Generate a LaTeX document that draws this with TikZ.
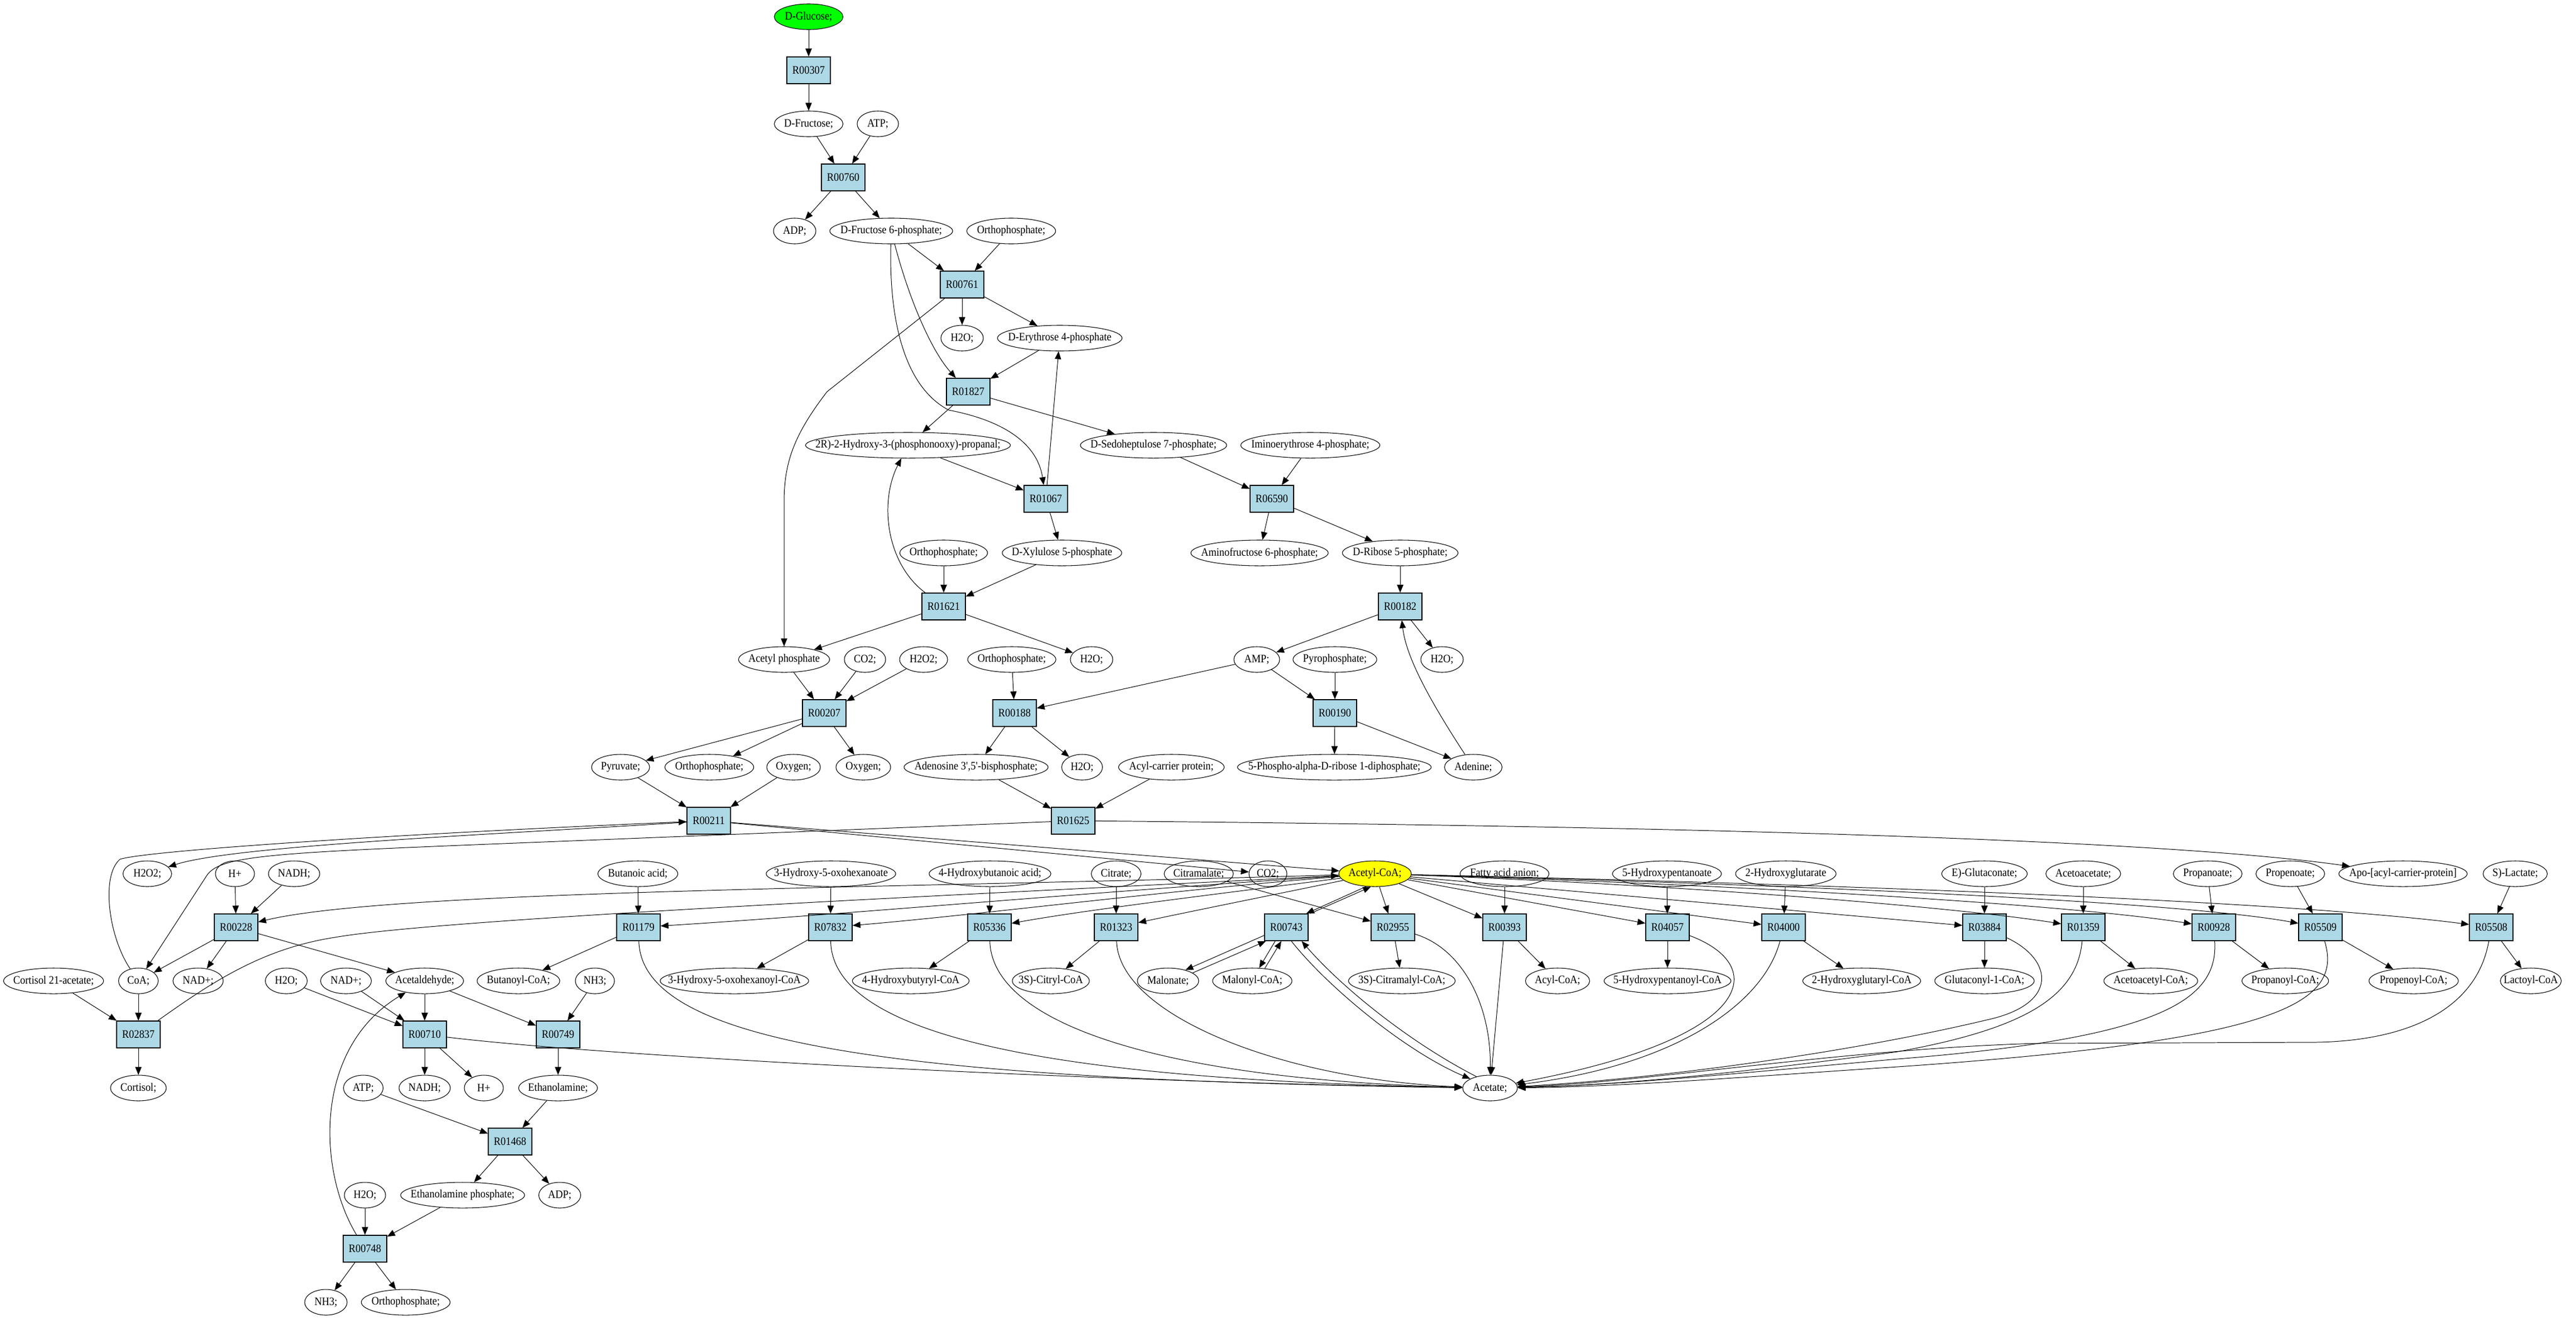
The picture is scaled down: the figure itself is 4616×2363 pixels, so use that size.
\documentclass[tikz,border=0pt]{standalone}
\usepackage{fontspec}
\setmainfont{Liberation Serif}[FakeStretch=0.9]
\usetikzlibrary{arrows.meta,shapes.geometric}
\definecolor{lb}{HTML}{ADD8E6}
\definecolor{gg}{HTML}{00FF00}
\definecolor{yy}{HTML}{FFFF00}
\newcommand\myfnt{\fontsize{5.8pt}{6.5pt}\selectfont}
\newcommand\mycp[5][]{\node[cp=#4,#1,label={center:{#5}}] (#2) at (#3) {};}
\newcommand\myrx[2]{\node[rx] (#1) at (#2) {#1};}
\tikzset{
 cp/.style={draw,ellipse,inner sep=0pt,minimum height=0.46cm,minimum width=#1,line width=0.3pt},
 rx/.style={draw,rectangle,fill=lb,inner sep=0pt,minimum width=0.78cm,minimum height=0.48cm,line width=0.4pt},
 arr/.style={-{Triangle[length=4pt,width=3.2pt]},line width=0.28pt}
}
\begin{document}
\begin{tikzpicture}[x=0.01cm,y=-0.01cm,font=\myfnt]
\path[fill=white,use as bounding box] (0,0) rectangle (4616,2363);
% ---------- nodes ----------
\mycp[fill=gg]{g}{1449,30}{1.23cm}{D-Glucose;}
\myrx{R00307}{1449,126}
\mycp{fru}{1449,222}{1.23cm}{D-Fructose;}
\mycp{atpA}{1573,222}{0.74cm}{ATP;}
\myrx{R00760}{1511,318}
\mycp{adpA}{1424,414}{0.76cm}{ADP;}
\mycp{f6p}{1597,414}{2.20cm}{D-Fructose 6-phosphate;}
\mycp{piA}{1812,414}{1.59cm}{Orthophosphate;}
\myrx{R00761}{1724,510}
\mycp{hoA}{1724,606}{0.76cm}{H2O;}
\mycp{e4p}{1899,606}{2.23cm}{D-Erythrose 4-phosphate}
\myrx{R01827}{1735,702}
\mycp{g3p}{1627,798}{3.67cm}{2R)-2-Hydroxy-3-(phosphonooxy)-propanal;}
\mycp{s7p}{2067,798}{2.62cm}{D-Sedoheptulose 7-phosphate;}
\mycp{ie4p}{2348,798}{2.49cm}{Iminoerythrose 4-phosphate;}
\myrx{R01067}{1874,894}
\myrx{R06590}{2279,894}
\mycp{piB}{1691,991}{1.57cm}{Orthophosphate;}
\mycp{x5p}{1903,991}{2.14cm}{D-Xylulose 5-phosphate}
\mycp{af6p}{2257,991}{2.46cm}{Aminofructose 6-phosphate;}
\mycp{r5p}{2509,991}{2.07cm}{D-Ribose 5-phosphate;}
\myrx{R01621}{1691,1087}
\myrx{R00182}{2509,1087}
\mycp{acp}{1405,1182}{1.63cm}{Acetyl phosphate}
\mycp{co2A}{1550,1182}{0.74cm}{CO2;}
\mycp{hhA}{1655,1182}{0.86cm}{H2O2;}
\mycp{piC}{1813,1182}{1.58cm}{Orthophosphate;}
\mycp{hoB}{1956,1182}{0.76cm}{H2O;}
\mycp{amp}{2252,1182}{0.82cm}{AMP;}
\mycp{ppi}{2392,1182}{1.50cm}{Pyrophosphate;}
\mycp{hoC}{2584,1182}{0.76cm}{H2O;}
\myrx{R00207}{1477,1278}
\myrx{R00188}{1818,1278}
\myrx{R00190}{2392,1278}
\mycp{pyr}{1112,1375}{1.04cm}{Pyruvate;}
\mycp{piD}{1271,1375}{1.59cm}{Orthophosphate;}
\mycp{oxA}{1422,1375}{0.96cm}{Oxygen;}
\mycp{oxB}{1547,1375}{0.98cm}{Oxygen;}
\mycp{pap}{1749,1375}{2.58cm}{Adenosine 3\textquotesingle,5\textquotesingle-bisphosphate;}
\mycp{hoD}{1939,1375}{0.73cm}{H2O;}
\mycp{acpr}{2099,1375}{1.89cm}{Acyl-carrier protein;}
\mycp{prpp}{2391,1375}{3.47cm}{5-Phospho-alpha-D-ribose 1-diphosphate;}
\mycp{ade}{2640,1375}{1.03cm}{Adenine;}
\myrx{R00211}{1270,1471}
\myrx{R01625}{1923,1471}
% row 1566
\mycp{hhB}{264,1566}{0.87cm}{H2O2;}
\mycp{hpA}{421,1566}{0.70cm}{H+}
\mycp{nadhA}{527,1566}{0.92cm}{NADH;}
\mycp{but}{1143,1566}{1.43cm}{Butanoic acid;}
\mycp{hoh}{1489,1566}{2.32cm}{3-Hydroxy-5-oxohexanoate}
\mycp{hba}{1774,1566}{2.18cm}{4-Hydroxybutanoic acid;}
\mycp{cit}{2000,1566}{0.89cm}{Citrate;}
\mycp{citm}{2148,1566}{1.24cm}{Citramalate;}
\mycp{co2B}{2272,1566}{0.68cm}{CO2;}
\mycp[fill=yy]{accoa}{2464,1566}{1.30cm}{Acetyl-CoA;}
\mycp{faa}{2696,1566}{1.59cm}{Fatty acid anion;}
\mycp{hpa}{2987,1566}{1.95cm}{5-Hydroxypentanoate}
\mycp{hg}{3200,1566}{1.80cm}{2-Hydroxyglutarate}
\mycp{glc}{3556,1566}{1.53cm}{E)-Glutaconate;}
\mycp{aca}{3733,1566}{1.34cm}{Acetoacetate;}
\mycp{ppa}{3956,1566}{1.23cm}{Propanoate;}
\mycp{pea}{4104,1566}{1.23cm}{Propenoate;}
\mycp{apo}{4306,1566}{2.30cm}{Apo-[acyl-carrier-protein]}
\mycp{lac}{4507,1566}{1.15cm}{S)-Lactate;}
% row 1662
\myrx{R00228}{423,1662}
\myrx{R01179}{1144,1662}
\myrx{R07832}{1488,1662}
\myrx{R05336}{1773,1662}
\myrx{R01323}{2000,1662}
\myrx{R00743}{2305,1662}
\myrx{R02955}{2496,1662}
\myrx{R00393}{2696,1662}
\myrx{R04057}{2988,1662}
\myrx{R04000}{3196,1662}
\myrx{R03884}{3556,1662}
\myrx{R01359}{3733,1662}
\myrx{R00928}{3967,1662}
\myrx{R05509}{4158,1662}
\myrx{R05508}{4464,1662}
% row 1758
\mycp{c21}{96,1758}{1.79cm}{Cortisol 21-acetate;}
\mycp{coa}{248,1758}{0.71cm}{CoA;}
\mycp{nadA}{355,1758}{0.90cm}{NAD+;}
\mycp{hoE}{513,1758}{0.75cm}{H2O;}
\mycp{nadB}{620,1758}{0.91cm}{NAD+;}
\mycp{ald}{761,1758}{1.39cm}{Acetaldehyde;}
\mycp{bcoa}{929,1758}{1.48cm}{Butanoyl-CoA;}
\mycp{nhA}{1066,1758}{0.70cm}{NH3;}
\mycp{hohcoa}{1316,1758}{2.66cm}{3-Hydroxy-5-oxohexanoyl-CoA}
\mycp{hbcoa}{1632,1758}{2.09cm}{4-Hydroxybutyryl-CoA}
\mycp{citcoa}{1883,1758}{1.38cm}{3S)-Citryl-CoA}
\mycp{mal}{2093,1758}{1.10cm}{Malonate;}
\mycp{malcoa}{2244,1758}{1.42cm}{Malonyl-CoA;}
\mycp{cmcoa}{2512,1758}{1.91cm}{3S)-Citramalyl-CoA;}
\mycp{acylcoa}{2791,1758}{1.15cm}{Acyl-CoA;}
\mycp{hpcoa}{2988,1758}{2.27cm}{5-Hydroxypentanoyl-CoA}
\mycp{hgcoa}{3336,1758}{2.11cm}{2-Hydroxyglutaryl-CoA}
\mycp{gcoa}{3556,1758}{1.78cm}{Glutaconyl-1-CoA;}
\mycp{aacoa}{3854,1758}{1.68cm}{Acetoacetyl-CoA;}
\mycp{pcoa}{4095,1758}{1.55cm}{Propanoyl-CoA;}
\mycp{pecoa}{4325,1758}{1.60cm}{Propenoyl-CoA;}
\mycp{lcoa}{4535,1758}{1.09cm}{Lactoyl-CoA}
% lower left
\myrx{R02837}{248,1854}
\myrx{R00710}{761,1854}
\myrx{R00749}{1000,1854}
\mycp{cort}{248,1950}{1.00cm}{Cortisol;}
\mycp{atpB}{651,1950}{0.71cm}{ATP;}
\mycp{nadhB}{761,1950}{0.92cm}{NADH;}
\mycp{hpB}{867,1950}{0.70cm}{H+}
\mycp{etn}{1000,1950}{1.41cm}{Ethanolamine;}
\mycp{acetate}{2670,1950}{0.98cm}{Acetate;}
\myrx{R01468}{914,2046}
\mycp{hoF}{654,2142}{0.74cm}{H2O;}
\mycp{etnp}{829,2142}{2.22cm}{Ethanolamine phosphate;}
\mycp{adpB}{1003,2142}{0.75cm}{ADP;}
\myrx{R00748}{654,2238}
\mycp{nhB}{584,2334}{0.76cm}{NH3;}
\mycp{piE}{727,2334}{1.59cm}{Orthophosphate;}
% ---------- edges ----------
\draw[arr] (g) -- (R00307);
\draw[arr] (R00307) -- (fru);
\draw[arr] (fru) -- (R00760);
\draw[arr] (atpA) -- (R00760);
\draw[arr] (R00760) -- (adpA);
\draw[arr] (R00760) -- (f6p);
\draw[arr] (f6p) -- (R00761);
\draw[arr] (piA) -- (R00761);
\draw[arr] (R00761) -- (hoA);
\draw[arr] (R00761) -- (e4p);
\draw[arr] (R00761) -- (1482,702) .. controls (1422,780) and (1405,830) .. (1405,900) -- (acp);
\draw[arr] (f6p) .. controls (1630,540) and (1670,630) .. (R01827);
\draw[arr] (f6p) .. controls (1593,560) and (1615,690) .. (1700,735) .. controls (1790,752) and (1858,790) .. (R01067);
\draw[arr] (e4p) -- (R01827);
\draw[arr] (R01827) -- (g3p);
\draw[arr] (R01827) -- (s7p);
\draw[arr] (g3p) -- (R01067);
\draw[arr] (R01067) -- (e4p);
\draw[arr] (R01067) -- (x5p);
\draw[arr] (s7p) -- (R06590);
\draw[arr] (ie4p) -- (R06590);
\draw[arr] (R06590) -- (af6p);
\draw[arr] (R06590) -- (r5p);
\draw[arr] (piB) -- (R01621);
\draw[arr] (x5p) -- (R01621);
\draw[arr] (R01621) .. controls (1588,1010) and (1575,900) .. (g3p);
\draw[arr] (R01621) -- (acp);
\draw[arr] (R01621) -- (hoB);
\draw[arr] (r5p) -- (R00182);
\draw[arr] (R00182) -- (amp);
\draw[arr] (R00182) -- (hoC);
\draw[arr] (ade) .. controls (2565,1260) and (2520,1180) .. (R00182);
\draw[arr] (acp) -- (R00207);
\draw[arr] (co2A) -- (R00207);
\draw[arr] (hhA) -- (R00207);
\draw[arr] (piC) -- (R00188);
\draw[arr] (amp) -- (R00188);
\draw[arr] (amp) -- (R00190);
\draw[arr] (ppi) -- (R00190);
\draw[arr] (R00207) -- (pyr);
\draw[arr] (R00207) -- (piD);
\draw[arr] (R00207) -- (oxB);
\draw[arr] (R00188) -- (pap);
\draw[arr] (R00188) -- (hoD);
\draw[arr] (R00190) -- (prpp);
\draw[arr] (R00190) -- (ade);
\draw[arr] (pyr) -- (R00211);
\draw[arr] (oxA) -- (R00211);
\draw[arr] (pap) -- (R01625);
\draw[arr] (acpr) -- (R01625);
\draw[arr] (R00211) -- (accoa);
\draw[arr] (R00211) -- (co2B);
\draw[arr] (coa) .. controls (195,1680) and (180,1570) .. (215,1540) .. controls (260,1525) and (700,1495) .. (R00211);
\draw[arr] (R00211) .. controls (900,1495) and (420,1515) .. (hhB);
\draw[arr] (R01625) -- (1050,1506) .. controls (500,1528) and (395,1530) .. (370,1570) -- (coa);
\draw[arr] (R01625) .. controls (2700,1478) and (3800,1495) .. (apo);
% acetyl-CoA
\draw[arr] (accoa) .. controls (1600,1592) and (700,1595) .. (R00228);
\draw[arr] (R02837) .. controls (380,1760) and (470,1700) .. (600,1680) .. controls (800,1645) and (1800,1600) .. (accoa);
\draw[arr] (accoa) .. controls (2000,1595) and (1500,1640) .. (R01179);
\draw[arr] (accoa) .. controls (2100,1595) and (1750,1640) .. (R07832);
\draw[arr] (accoa) .. controls (2200,1600) and (1950,1630) .. (R05336);
\draw[arr] (accoa) .. controls (2300,1600) and (2150,1630) .. (R01323);
\draw[arr] (accoa.235) -- ([xshift=-0.04cm]R00743.north east);
\draw[arr] ([xshift=0.03cm]R00743.north east) -- (accoa.252);
\draw[arr] (accoa) -- (R02955);
\draw[arr] (accoa) -- (R00393);
\draw[arr] (accoa) -- (R04057);
\draw[arr] (accoa) -- (R04000);
\draw[arr] (accoa) -- (R03884);
\draw[arr] (accoa) .. controls (3000,1585) and (3500,1625) .. (R01359);
\draw[arr] (accoa) .. controls (3100,1585) and (3700,1620) .. (R00928);
\draw[arr] (accoa) .. controls (3200,1585) and (3900,1615) .. (R05509);
\draw[arr] (accoa) .. controls (3300,1585) and (4100,1615) .. (R05508);
\draw[arr] (citm) -- (R02955);
% substrates
\draw[arr] (hpA) -- (R00228);
\draw[arr] (nadhA) -- (R00228);
\draw[arr] (but) -- (R01179);
\draw[arr] (hoh) -- (R07832);
\draw[arr] (hba) -- (R05336);
\draw[arr] (cit) -- (R01323);
\draw[arr] (faa) -- (R00393);
\draw[arr] (hpa) -- (R04057);
\draw[arr] (hg) -- (R04000);
\draw[arr] (glc) -- (R03884);
\draw[arr] (aca) -- (R01359);
\draw[arr] (ppa) -- (R00928);
\draw[arr] (pea) -- (R05509);
\draw[arr] (lac) -- (R05508);
% products
\draw[arr] (R00228) -- (coa);
\draw[arr] (R00228) -- (nadA);
\draw[arr] (R00228) -- (ald);
\draw[arr] (R01179) -- (bcoa);
\draw[arr] (R07832) -- (hohcoa);
\draw[arr] (R05336) -- (hbcoa);
\draw[arr] (R01323) -- (citcoa);
\draw[arr] (R02955) -- (cmcoa);
\draw[arr] (R00393) -- (acylcoa);
\draw[arr] (R04057) -- (hpcoa);
\draw[arr] (R04000) -- (hgcoa);
\draw[arr] (R03884) -- (gcoa);
\draw[arr] (R01359) -- (aacoa);
\draw[arr] (R00928) -- (pcoa);
\draw[arr] (R05509) -- (pecoa);
\draw[arr] (R05508) -- (lcoa);
% R00743 reversible
\draw[arr] (R00743.200) -- (mal.32);
\draw[arr] (mal.18) -- (R00743.214);
\draw[arr] (R00743.231) -- (malcoa.62);
\draw[arr] (malcoa.45) -- (R00743.250);
\draw[arr] (R00743.290) .. controls (2380,1770) and (2520,1885) .. (acetate.155);
\draw[arr] (acetate.140) .. controls (2520,1865) and (2400,1765) .. (R00743.318);
% to acetate
\draw[arr] (R01179) .. controls (1150,1870) and (1600,1935) .. (acetate);
\draw[arr] (R07832) .. controls (1492,1860) and (1900,1935) .. (acetate);
\draw[arr] (R05336) .. controls (1778,1840) and (2100,1935) .. (acetate);
\draw[arr] (R01323) .. controls (2005,1820) and (2300,1935) .. (acetate);
\draw[arr] (R00710) .. controls (1100,1895) and (2000,1940) .. (acetate);
\draw[arr] (R02955) .. controls (2620,1700) and (2672,1800) .. (acetate);
\draw[arr] (R00393) -- (acetate);
\draw[arr] (R04057) .. controls (3170,1730) and (3150,1860) .. (acetate);
\draw[arr] (R04000) .. controls (3160,1800) and (3000,1910) .. (acetate);
\draw[arr] (R03884) .. controls (3680,1720) and (3690,1800) .. (3560,1828) .. controls (3300,1890) and (2950,1935) .. (acetate);
\draw[arr] (R01359) .. controls (3722,1790) and (3620,1845) .. (3400,1885) .. controls (3100,1925) and (2900,1945) .. (acetate);
\draw[arr] (R00928) .. controls (3975,1790) and (3880,1860) .. (3400,1898) .. controls (3100,1925) and (2900,1945) .. (acetate);
\draw[arr] (R05509) .. controls (4200,1800) and (4080,1865) .. (3400,1912) .. controls (3100,1932) and (2900,1948) .. (acetate);
\draw[arr] (R05508) .. controls (4440,1800) and (4330,1865) .. (4150,1868) -- (3650,1870) .. controls (3300,1880) and (2950,1940) .. (acetate);
% lower left
\draw[arr] (c21) -- (R02837);
\draw[arr] (coa) -- (R02837);
\draw[arr] (R02837) -- (cort);
\draw[arr] (hoE) -- (R00710);
\draw[arr] (nadB) -- (R00710);
\draw[arr] (ald) -- (R00710);
\draw[arr] (R00710) -- (nadhB);
\draw[arr] (R00710) -- (hpB);
\draw[arr] (ald) -- (R00749);
\draw[arr] (nhA) -- (R00749);
\draw[arr] (R00749) -- (etn);
\draw[arr] (atpB) -- (R01468);
\draw[arr] (etn) -- (R01468);
\draw[arr] (R01468) -- (etnp);
\draw[arr] (R01468) -- (adpB);
\draw[arr] (hoF) -- (R00748);
\draw[arr] (etnp) -- (R00748);
\draw[arr] (R00748) -- (nhB);
\draw[arr] (R00748) -- (piE);
\draw[arr] (R00748) .. controls (570,2100) and (560,1880) .. (ald);
\end{tikzpicture}
\end{document}
